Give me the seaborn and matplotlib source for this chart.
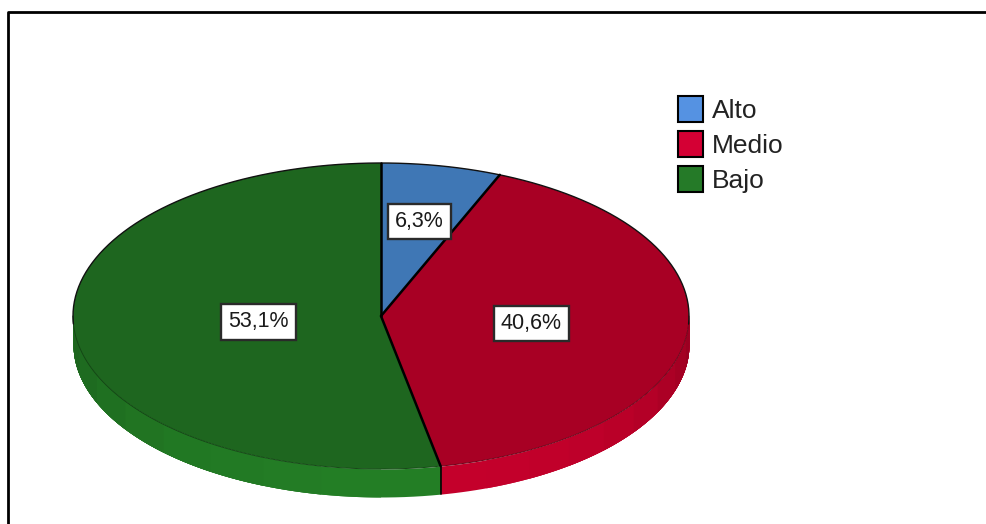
# 3D looking pie, Alto / Medio / Bajo
import numpy as np
import seaborn as sns
import matplotlib.pyplot as plt
from matplotlib.colors import to_rgb
from matplotlib.patches import Patch

categories = ['Alto', 'Medio', 'Bajo']
values = [6.3, 40.6, 53.1]

top_colors = ['#3f77b5', '#a80024', '#1e661f']
legend_colors = ['#5592e2', '#d40034', '#257a28']
# side wall colours: near the front seam, near the rim
side_front = ['#4f8fd8', '#c4002b', '#237e25']
side_rim = ['#3f77b5', '#8f001e', '#1b5e1c']
# how far out each label sits, as a share of the radius
label_dist = [0.63, 0.49, 0.40]

sns.set_style('white')
plt.rcParams['font.family'] = ['Liberation Sans', 'DejaVu Sans']

fig, ax = plt.subplots(figsize=(9.86, 5.24), dpi=100)
ax.set_position([0, 0, 1, 1])

wedges, _ = ax.pie(values, colors=top_colors, startangle=90, counterclock=False,
                   wedgeprops={'linewidth': 0})
for w in wedges:
    w.set_zorder(3)

# squash the pie: one unit is 308 px across and 153 px down
cx, cy, rx, ry = 381, 316, 308, 153
ax.set_aspect('auto')
ax.set_xlim(-cx / rx, (986 - cx) / rx)
ax.set_ylim(-(524 - cy) / ry, cy / ry)
depth = 28 / ry

bounds = 90 - 360 * np.concatenate([[0], np.cumsum(values)]) / np.sum(values)

# side wall, only the front half of the pie shows it
for i in range(len(values)):
    lo, hi = max(bounds[i + 1], -180), min(bounds[i], 0)
    if lo >= hi:
        continue
    c0, c1 = np.array(to_rgb(side_front[i])), np.array(to_rgb(side_rim[i]))
    # paint bands from the seam outwards, each one over the rest of the wall
    for s in np.linspace(0, 1, 10)[:-1]:
        if i == 1:
            a, b = lo + (hi - lo) * s, hi
        else:
            a, b = lo, hi - (hi - lo) * s
        t = np.radians(np.linspace(a, b, 60))
        col = c0 + (c1 - c0) * s ** 2
        ax.fill_between(np.cos(t), np.sin(t) - depth, np.sin(t), color=col, lw=0, zorder=1)
    # thin darker line where the top meets the wall
    t = np.radians(np.linspace(lo, hi, 80))
    ax.plot(np.cos(t), np.sin(t), color=c1 * 0.75, lw=0.7, zorder=4)
    # seam between two side walls
    if -180 < lo < 0:
        x, y = np.cos(np.radians(lo)), np.sin(np.radians(lo))
        ax.plot([x, x], [y, y - depth], color='black', lw=1.2, zorder=2)

# black rim over the back half, radial lines on all slices
t = np.radians(np.linspace(-3, 183, 200))
ax.plot(np.cos(t), np.sin(t), color='#111111', lw=1.0, zorder=4)
for b in bounds[:-1]:
    ax.plot([0, np.cos(np.radians(b))], [0, np.sin(np.radians(b))], color='black',
            lw=1.8, zorder=4, solid_capstyle='round')

# percent labels
for w, val, d in zip(wedges, values, label_dist):
    mid = np.radians((w.theta1 + w.theta2) / 2)
    ax.text(d * np.cos(mid), d * np.sin(mid), f'{val:.1f}%'.replace('.', ','),
            ha='center', va='center', fontsize=15.5, color='#1a1a1a', zorder=5,
            bbox={'boxstyle': 'square,pad=0.33', 'facecolor': 'white',
                  'edgecolor': '#2a2a2a', 'linewidth': 1.7})

handles = [Patch(facecolor=c, edgecolor='black', linewidth=1.5) for c in legend_colors]
ax.legend(handles, categories, loc='upper left', bbox_to_anchor=(0.6876, 0.817),
          frameon=False, fontsize=19, handlelength=0.95, handleheight=1.12,
          handletextpad=0.33, labelspacing=0.31, borderpad=0, borderaxespad=0,
          labelcolor='#222222')

# outer frame, open to the right and at the bottom
ax.plot([8 / 986, 8 / 986, 1], [0, 1 - 12 / 524, 1 - 12 / 524], color='black', lw=2,
        transform=ax.transAxes, clip_on=False, zorder=6)

fig.savefig('out.png', dpi=100)
